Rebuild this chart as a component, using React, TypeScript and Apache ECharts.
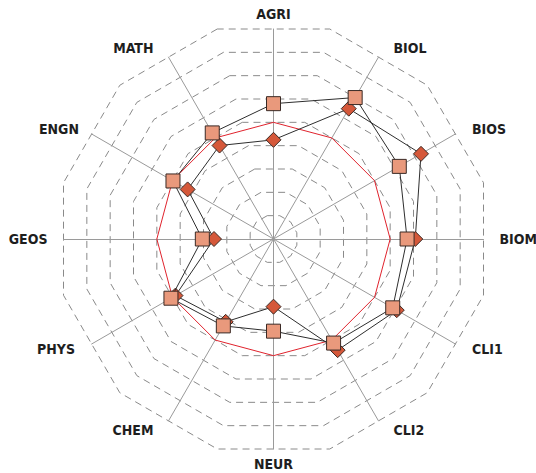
import React, { useEffect, useRef } from "react";
import * as echarts from "echarts";

// Axis names, clockwise from the top
const categories = ["AGRI", "BIOL", "BIOS", "BIOM", "CLI1", "CLI2", "NEUR", "CHEM", "PHYS", "GEOS", "ENGN", "MATH"];
// Values (relative to reference = 1.0), clockwise order
const squareValues = [1.16, 1.4, 1.245, 1.145, 1.18, 1.03, 0.79, 0.86, 1.015, 0.61, 0.995, 1.05];
const diamondValues = [0.85, 1.29, 1.46, 1.215, 1.22, 1.1, 0.58, 0.82, 0.97, 0.51, 0.85, 0.925];
const referenceValues = [1, 1, 1, 1, 1, 1, 1, 1, 1, 1, 1, 1];
const axisMax = 1.8;
const ringCount = 9;

// ECharts radar runs counter-clockwise: reorder clockwise lists
const ccw = (arr: any[]) => [arr[0], ...arr.slice(1).reverse()];

const labelStyleKey: Record<string, string> = {
  AGRI: "v", NEUR: "v",
  GEOS: "h", BIOM: "h",
  BIOS: "d30", CLI1: "d30", PHYS: "d30", ENGN: "d30e",
  BIOL: "d60", CLI2: "d60", CHEM: "d60", MATH: "d60",
};

export default function App() {
  const ref = useRef<HTMLDivElement>(null);
  useEffect(() => {
    if (!ref.current) return;
    const chart = echarts.init(ref.current, undefined, { renderer: "svg" });
    const cx = 273.5, cy = 239, R = 210;
    const font = "'DejaVu Sans Condensed', 'Liberation Sans Narrow', sans-serif";
    const baseText = { fontFamily: font, fontWeight: "bold" as const, fontSize: 14, color: "#1e1e1e" };
    chart.setOption({
      animation: false,
      backgroundColor: "#ffffff",
      radar: [
        {
          // grid rings: 12-gons with flat sides facing the axes
          center: [cx, cy],
          radius: R / Math.cos(Math.PI / 12),
          startAngle: 105,
          shape: "polygon",
          splitNumber: ringCount,
          indicator: categories.map(() => ({ name: "", min: 0, max: ringCount })),
          axisName: { show: false },
          axisLine: { show: false },
          axisTick: { show: false },
          splitArea: { show: false },
          splitLine: { lineStyle: { color: "#8a8a8a", width: 1, type: [7, 5] } },
        },
        {
          center: [cx, cy],
          radius: R,
          startAngle: 90,
          shape: "polygon",
          splitNumber: ringCount,
          indicator: ccw(categories).map((n: string) => ({ name: n, min: 0, max: axisMax })),
          nameGap: 10,
          axisName: {
            ...baseText,
            formatter: (name: string) => `{${labelStyleKey[name]}|${name}}`,
            rich: {
              v: { ...baseText, lineHeight: 10 },
              h: { ...baseText, padding: [0, 6, 0, 6] },
              d30: { ...baseText, padding: [0, 8, 0, 8] },
              d30e: { ...baseText, padding: [0, 4, 0, 4] },
              d60: { ...baseText, padding: [0, 10, 0, 10] },
            },
          },
          axisLine: { show: true, lineStyle: { color: "#9a9a9a", width: 1 } },
          axisTick: { show: false },
          splitLine: { show: false },
          splitArea: { show: false },
        },
      ],
      series: [
        {
          type: "radar",
          radarIndex: 1,
          z: 2,
          symbol: "none",
          lineStyle: { color: "#e0232d", width: 1 },
          data: [{ value: ccw(referenceValues), name: "reference" }],
        },
        {
          type: "radar",
          radarIndex: 1,
          z: 3,
          symbol: "diamond",
          symbolSize: 15,
          itemStyle: { color: "#d5583a", borderColor: "#3a2a25", borderWidth: 1 },
          lineStyle: { color: "#2e2e2e", width: 1 },
          data: [{ value: ccw(diamondValues), name: "diamond" }],
        },
        {
          type: "radar",
          radarIndex: 1,
          z: 4,
          symbol: "rect",
          symbolSize: 14,
          itemStyle: { color: "#e9997c", borderColor: "#3a2a25", borderWidth: 1 },
          lineStyle: { color: "#2e2e2e", width: 1 },
          data: [{ value: ccw(squareValues), name: "square" }],
        },
      ],
    });
    return () => chart.dispose();
  }, []);
  return (
    <div
      ref={ref}
      style={{ position: "fixed", left: 0, top: 0, width: 536, height: 473, background: "#fff" }}
    />
  );
}
